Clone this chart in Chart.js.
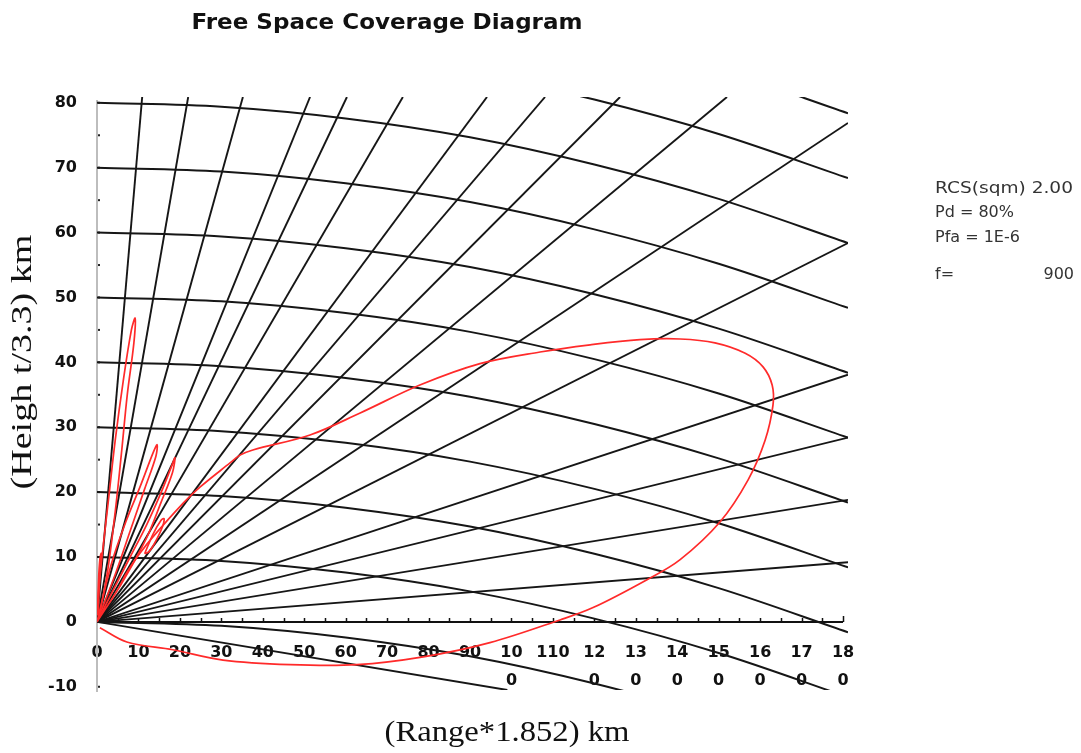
<!DOCTYPE html>
<html lang="en">
<head>
  <meta charset="UTF-8" />
  <title>Free Space Coverage Diagram</title>
  <style>
    html, body { margin: 0; padding: 0; background: #fff; }
    #wrap { position: relative; width: 1081px; height: 753px; }
  </style>
</head>
<body>
  <div id="wrap"><canvas id="chart" width="1081" height="753"></canvas></div>

  <script src="https://cdn.jsdelivr.net/npm/chart.js"></script>
  <script>
    // axis ticks
    const xTicks = [0, 10, 20, 30, 40, 50, 60, 70, 80, 90, 100, 110, 120, 130, 140, 150, 160, 170, 180];
    const xTickLabels = ['0', '10', '20', '30', '40', '50', '60', '70', '80', '90', ['10', '0'], '110',
      ['12', '0'], ['13', '0'], ['14', '0'], ['15', '0'], ['16', '0'], ['17', '0'], ['18', '0']];
    const yTicks = [-10, 0, 10, 20, 30, 40, 50, 60, 70, 80];

    const heightLevels = [0, 10, 20, 30, 40, 50, 60, 70, 80, 90, 100];
    const curveRange = [0, 30, 60, 90, 120, 150, 181.2];
    const curveDrop = [0, 0.6, 2.4, 5.3, 9.5, 14.8, 21.6];

    // elevation lines, end points (they all start at the origin)
    const elevEndX = [10.9, 22.0, 35.2, 51.4, 60.3, 73.8, 94.1, 108.1, 126.2, 152.0,
      181.2, 181.2, 181.2, 181.2, 181.2, 181.2, 99];
    const elevEndY = [80.9, 80.9, 80.9, 80.9, 80.9, 80.9, 80.9, 80.9, 80.9, 80.9,
      76.9, 58.4, 38.1, 28.4, 18.8, 9.2, -10.5];

    // coverage: main lobe
    const mainLobeX = [0.7, 7.2, 18.3, 30.4, 46.6, 62.7, 78.7, 94.8, 111.7, 119.7, 132.7, 140.7, 150.3, 157.1,
      161.2, 163.1, 162.9, 160.7, 156.4, 149.1, 140.7, 131.0, 119.0, 106.9, 92.4, 77.9, 63.5, 51.4, 37.6,
      34.5, 32.1, 24.9, 20.8, 13.5, 10.4, 7.2, 5.5];
    const mainLobeY = [-0.9, -3.1, -4.3, -5.9, -6.6, -6.6, -5.4, -3.2, 0.3, 2.2, 6.5, 9.6, 15.4, 21.9,
      28.0, 33.4, 36.5, 39.3, 41.4, 43.0, 43.6, 43.5, 42.7, 41.6, 39.8, 36.5, 32.2, 28.8, 26.5,
      25.7, 24.5, 20.8, 18.3, 13.1, 10.6, 7.6, 5.5];

    // coverage: side lobes near the vertical
    const lobeAX = [0, 1.2, 2.8, 4.4, 6.3, 8.3, 9.2, 8.9, 7.3, 5.9, 4.4, 2.6, 0.6];
    const lobeAY = [2, 10, 19, 28, 37, 45, 46.8, 43, 35, 26, 17, 8, 1];
    const lobeBX = [0, 3.5, 7, 10.5, 13.5, 14.5, 14.2, 11.5, 8, 4.5, 0];
    const lobeBY = [0, 9, 15.5, 21, 26, 27.3, 25.5, 20.5, 14, 7.5, 0];
    const lobeCX = [0, 8, 12, 15.5, 18, 18.8, 18.2, 15.5, 12, 6, 0];
    const lobeCY = [0, 10, 15, 20, 24, 25.3, 23, 18.5, 13, 6, 0];
    const lobeDX = [11.5, 13.5, 15.5, 16.2, 15.7, 13.8, 12.5, 11.5];
    const lobeDY = [10.5, 13.5, 15.7, 15.9, 14.5, 12, 10.8, 10.5];
    const lobeEX = [0.2, 0.3, 0.6, 1.0, 0.9, 0.5, 0.3];
    const lobeEY = [1, 5, 9, 10.6, 9, 5, 1];

    const GRID = '#161616';
    const RED = '#ff2a2a';

    function pts(xs, ys) {
      return xs.map((x, i) => ({ x: x, y: ys[i] }));
    }

    const datasets = [];

    [[mainLobeX, mainLobeY], [lobeAX, lobeAY], [lobeBX, lobeBY], [lobeCX, lobeCY],
     [lobeDX, lobeDY], [lobeEX, lobeEY]].forEach(l => {
      datasets.push({
        data: pts(l[0], l[1]),
        borderColor: RED,
        borderWidth: 1.7,
        tension: 0.35,
        pointRadius: 0,
        order: 0
      });
    });

    heightLevels.forEach(h => {
      datasets.push({
        data: curveRange.map((x, i) => ({ x: x, y: h - curveDrop[i] })),
        borderColor: GRID,
        borderWidth: 2,
        cubicInterpolationMode: 'monotone',
        pointRadius: 0,
        order: 1
      });
    });

    elevEndX.forEach((x, i) => {
      datasets.push({
        data: [{ x: 0, y: 0 }, { x: x, y: elevEndY[i] }],
        borderColor: GRID,
        borderWidth: 1.9,
        pointRadius: 0,
        order: 1
      });
    });

    function fitText(ctx, text, x, y, width, font, align, color, rot) {
      ctx.save();
      ctx.font = font;
      ctx.fillStyle = color;
      ctx.textAlign = align;
      ctx.textBaseline = 'middle';
      const w = ctx.measureText(text).width;
      ctx.translate(x, y);
      if (rot) ctx.rotate(rot);
      if (width) ctx.scale(width / w, 1);
      ctx.fillText(text, 0, 0);
      ctx.restore();
    }

    const decor = {
      id: 'decor',
      beforeDatasetsDraw(chart) {
        const ctx = chart.ctx;
        const xs = chart.scales.x, ys = chart.scales.y;
        const a = chart.chartArea;
        ctx.save();
        // y axis line (light grey)
        ctx.strokeStyle = '#bdbdbd';
        ctx.lineWidth = 2;
        ctx.beginPath();
        ctx.moveTo(a.left, a.top + 3);
        ctx.lineTo(a.left, a.bottom + 2);
        ctx.stroke();
        // y minor ticks
        ctx.fillStyle = '#222';
        for (let v = -10; v <= 80; v += 5) {
          ctx.fillRect(a.left + 1, ys.getPixelForValue(v) - 1, 2, 2);
        }
        // x axis line and upward ticks
        const y0 = ys.getPixelForValue(0);
        ctx.strokeStyle = '#111';
        ctx.lineWidth = 2;
        ctx.beginPath();
        ctx.moveTo(xs.getPixelForValue(0), y0);
        ctx.lineTo(xs.getPixelForValue(180), y0);
        ctx.stroke();
        ctx.lineWidth = 1.5;
        ctx.beginPath();
        for (let v = 5; v <= 180; v += 5) {
          const px = Math.round(xs.getPixelForValue(v)) + 0.5;
          ctx.moveTo(px, y0);
          ctx.lineTo(px, y0 - (v === 180 ? 6 : 4));
        }
        ctx.stroke();
        ctx.restore();
      },
      afterDraw(chart) {
        const ctx = chart.ctx;
        fitText(ctx, 'Free Space Coverage Diagram', 387, 24, 391, 'bold 21px "DejaVu Sans"', 'center', '#111');
        fitText(ctx, '(Heigh t/3.3) km', 23, 362, 255, '30px "Liberation Serif"', 'center', '#111', -Math.PI / 2);
        fitText(ctx, '(Range*1.852) km', 507, 733, 245, '30px "Liberation Serif"', 'center', '#111');
        const lf = '16px "DejaVu Sans"';
        fitText(ctx, 'RCS(sqm) 2.00', 935, 189, 138, lf, 'left', '#333');
        fitText(ctx, 'Pd = 80%', 935, 213, 0, lf, 'left', '#333');
        fitText(ctx, 'Pfa = 1E-6', 935, 238, 0, lf, 'left', '#333');
        fitText(ctx, 'f=', 935, 275, 0, lf, 'left', '#333');
        fitText(ctx, '900', 1074, 275, 0, lf, 'right', '#333');
      }
    };

    const tickFont = { family: '"DejaVu Sans"', size: 16, weight: 'bold' };

    new Chart(document.getElementById('chart'), {
      type: 'line',
      data: { datasets: datasets },
      options: {
        responsive: false,
        animation: false,
        events: [],
        layout: { padding: { top: 97, right: 233, bottom: 63, left: 0 } },
        plugins: { legend: { display: false }, tooltip: { enabled: false }, title: { display: false } },
        scales: {
          x: {
            type: 'linear',
            position: { y: 0 },
            min: 0,
            max: 181.2,
            grid: { display: false, drawTicks: false },
            border: { display: false },
            afterBuildTicks: s => { s.ticks = xTicks.map(v => ({ value: v })); },
            ticks: {
              autoSkip: false,
              maxRotation: 0,
              minRotation: 0,
              padding: 17,
              color: '#111',
              font: Object.assign({ lineHeight: 1.75 }, tickFont),
              callback: (v, i) => xTickLabels[i]
            }
          },
          y: {
            type: 'linear',
            position: 'left',
            min: -10.5,
            max: 80.9,
            grid: { display: false, drawTicks: false },
            border: { display: false },
            afterBuildTicks: s => { s.ticks = yTicks.map(v => ({ value: v })); },
            afterFit: s => { s.width = 97; },
            ticks: {
              padding: 20,
              color: '#111',
              font: tickFont,
              callback: v => String(v)
            }
          }
        }
      },
      plugins: [decor]
    });
  </script>
</body>
</html>
